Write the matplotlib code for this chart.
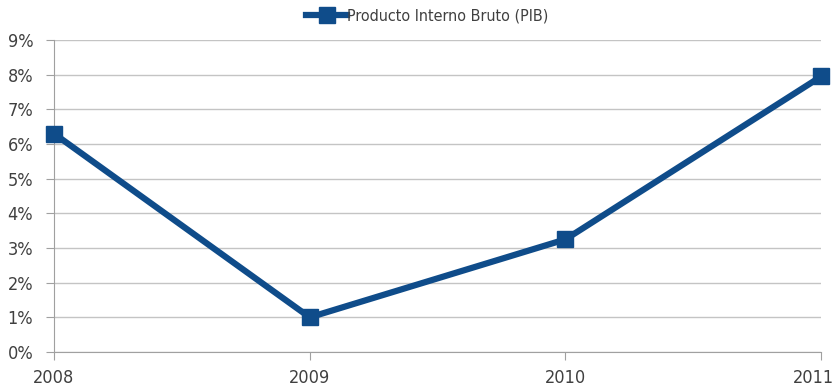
import matplotlib
matplotlib.use("Agg")
import matplotlib.pyplot as plt
import matplotlib.transforms as mtransforms
from matplotlib.ticker import FuncFormatter, MultipleLocator

years = ["2008", "2009", "2010", "2011"]
pib = [6.3, 1.0, 3.25, 7.95]
series_name = "Producto Interno Bruto (PIB)"

plt.rcParams['font.family'] = ['DejaVu Sans']
plt.rcParams['font.stretch'] = 'condensed'
text_color = "#404040"
line_color = "#0f4c8a"

fig = plt.figure(figsize=(8.38, 3.87), dpi=100)
ax = fig.add_axes([0.0644, 0.0904, 0.9156, 0.8062])

x = list(range(len(years)))
ax.plot(x, pib, color=line_color, lw=4.5, marker="s", ms=11,
        solid_joinstyle="miter", clip_on=False, zorder=5, label=series_name)

ax.set_xlim(0, len(years) - 1)
ax.set_ylim(0, 9)
ax.yaxis.set_major_locator(MultipleLocator(1))
ax.yaxis.set_major_formatter(FuncFormatter(lambda v, p: f"{v:.0f}%"))
ax.set_xticks(x)
ax.set_xticklabels(years)

ax.grid(axis="y", color="#c4c4c4", lw=1)
ax.set_axisbelow(True)
for side in ("top", "right"):
    ax.spines[side].set_visible(False)
ax.spines["left"].set_color("#a0a0a0")
ax.spines["bottom"].set_color("#a0a0a0")
ax.tick_params(axis="y", length=6, color="#a0a0a0", labelsize=13,
               labelcolor=text_color, pad=9)
ax.tick_params(axis="x", length=6, color="#a0a0a0", labelsize=13,
               labelcolor=text_color, pad=6)

# keep the last year label inside the figure edge
last = ax.get_xticklabels()[-1]
last.set_transform(last.get_transform() +
                   mtransforms.ScaledTranslation(-8 / 100, 0, fig.dpi_scale_trans))

leg = fig.legend(loc="upper center", bbox_to_anchor=(0.51, 1.015), frameon=False,
                 fontsize=11.5, handlelength=2.6, handletextpad=0.0,
                 labelcolor=text_color)

fig.savefig("out.png", dpi=100, facecolor="white")
